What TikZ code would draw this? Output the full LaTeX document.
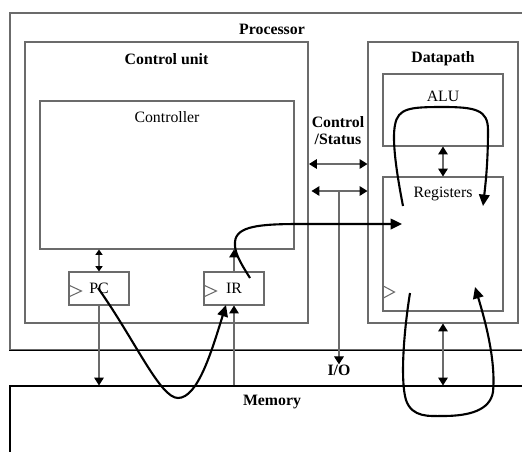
\documentclass[tikz,border=0pt]{standalone}
\usepackage{fontspec}
\setmainfont{Liberation Serif}
\usetikzlibrary{arrows.meta}
\definecolor{edge}{gray}{0.42}

\begin{document}
\begin{tikzpicture}[x=0.02cm,y=-0.02cm,font=\fontsize{9}{10}\selectfont,
  box/.style 2 args={draw=edge,line width=0.6pt,inner sep=0pt,minimum width=#1*0.02cm,minimum height=#2*0.02cm},
  ttl/.style={inner sep=0pt,font=\fontsize{9}{10}\selectfont\bfseries},
  txt/.style={inner sep=0pt},
  bus/.style={draw=edge,line width=0.6pt,-{Triangle[length=4.5pt,width=5.5pt,color=black]}},
  dbus/.style={draw=edge,line width=0.6pt,{Triangle[length=4.5pt,width=5.5pt,color=black]}-{Triangle[length=4.5pt,width=5.5pt,color=black]}},
  flow/.style={line width=1.2pt,-{Triangle[length=6.5pt,width=6pt]}}]
\useasboundingbox (0,0) rectangle (522,451);
\clip (0,0) rectangle (522,451);
% Outer blocks, running off the page to the right.
\node[box={530}{337}] (proc) at (275,181.5) {};
\draw[line width=0.6pt] (proc.south west) -- (proc.south east);
\node[box={530}{70}, draw=black] (mem) at (275,421) {};
\node[box={283}{281}] (cu) at (166.5,182.5) {};
\node[box={150}{281}] (dp) at (443,182.5) {};
\node[box={254}{148}] (ctrl) at (167,175) {};
\node[box={60}{33}] (pc) at (99,288.5) {PC};
\node[box={60}{33}] (ir) at (234,288.5) {IR};
\node[box={120}{72}] (alu) at (443,110) {};
\node[box={120}{134}] (reg) at (443,244) {};
% Clock inputs.
\draw[edge,line width=0.6pt] (pc.west) ++(0,-3.5) -- ++(13,6) -- ++(-13,6);
\draw[edge,line width=0.6pt] (ir.west) ++(0,-3.5) -- ++(13,6) -- ++(-13,6);
\draw[edge,line width=0.6pt] (reg.south west) ++(0,-26) -- ++(12,6.5) -- ++(-12,6.5);
% Labels.
\node[ttl] (proctxt) at (272,29) {Processor};
\node[ttl] (cutxt) at (166.5,59) {Control unit};
\node[ttl] (dptxt) at (443,59) {Datapath};
\node[txt] (ctrltxt) at (167,117) {Controller};
\node[txt] (alutxt) at (443,96) {ALU};
\node[txt,anchor=base] (regtxt) at (443,197) {Registers};
\node[ttl,align=center] (cstxt) at (338,130.5) {Control\\/Status};
\node[ttl] (io) at (339,370) {I/O};
\node[ttl] (memtxt) at (272,402) {Memory};
% Thin connections.
\coordinate (cs1) at (309,164);
\coordinate (cs2) at (339,191);
\draw[dbus] (cs1) -- (dp.west |- cs1);
\draw[dbus] (cu.east |- cs2) ++(3,0) -- (dp.west |- cs2);
\draw[bus] (cs2) -- (io.north);
\draw[draw=edge,line width=0.6pt,{Triangle[length=3pt,width=4pt,color=black]}-{Triangle[length=3pt,width=4pt,color=black]}] (pc.north |- ctrl.south) -- (pc.north);
\draw[bus] (pc.south) -- (pc.south |- mem.north);
\draw[bus] (ir.south |- mem.north) -- (ir.south);
\draw[bus] (ir.north) -- (ir.north |- ctrl.south);
\draw[dbus] (alu.south) -- (reg.north);
\draw[dbus] (dp.south) -- (dp.south |- mem.north);
% Instruction flow.
\draw[flow] (98,288) .. controls (135,340) and (160,398) .. (178,398) .. controls (198,398) and (212,350) .. (226,305);
\draw[flow] (250,278) .. controls (240,262) and (234,252) .. (235,242) .. controls (236,226) and (260,224) .. (300,224) -- (402,224);
\draw[flow] (403,206) .. controls (396,170) and (392,140) .. (395,125) .. controls (398,108) and (410,107) .. (443,107) .. controls (476,107) and (488,110) .. (488,130) .. controls (488,160) and (486,180) .. (483,206);
\draw[flow] (410,293) .. controls (404,330) and (400,380) .. (406,400) .. controls (412,418) and (430,416) .. (443,416) .. controls (470,416) and (490,410) .. (493,392) .. controls (496,360) and (485,320) .. (475,287);
\end{tikzpicture}
\end{document}
